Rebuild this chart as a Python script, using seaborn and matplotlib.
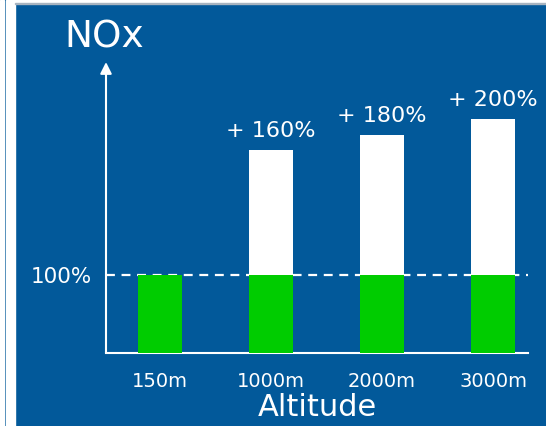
import matplotlib
matplotlib.use("Agg")
import matplotlib.pyplot as plt
import matplotlib.patches as mpatches
import seaborn as sns
import pandas as pd

# NOx emissions relative to sea-level operation, by altitude
altitudes = ["150m", "1000m", "2000m", "3000m"]
baseline = [100, 100, 100, 100]          # reference level (%)
total_nox = [100, 260, 280, 300]          # total emissions (%)
y_ticks = [100]
y_tick_labels = ["100%"]

BLUE = "#02599A"
GREEN = "#00CC00"
WHITE = "#FFFFFF"

sns.set_theme(style="white")
plt.rcParams["font.family"] = ["DejaVu Sans"]

df = pd.DataFrame({"altitude": altitudes, "base": baseline, "total": total_nox})

W, H = 546, 426
fig = plt.figure(figsize=(W / 100, H / 100), dpi=100)
fig.patch.set_facecolor(BLUE)

# slide frame on the left and top edge
fig.patches.extend([
    mpatches.Rectangle((0, 0), 4 / W, 1, transform=fig.transFigure, color=WHITE, zorder=0),
    mpatches.Rectangle((6 / W, 0), 9 / W, 1, transform=fig.transFigure, color=WHITE, zorder=0),
    mpatches.Rectangle((15 / W, 1 - 3 / H), 1, 3 / H, transform=fig.transFigure, color=WHITE, zorder=0),
    mpatches.Rectangle((15 / W, 1 - 4 / H), 1, 1 / H, transform=fig.transFigure, color="#A8B4C0", zorder=0),
])

ax = fig.add_axes([106 / W, 1 - 353 / H, (528 - 106) / W, (353 - 70) / H])
ax.set_facecolor("none")

# reference level
ax.axhline(100, color=WHITE, lw=1.6, ls=(0, (4, 3)), zorder=0.5)

# total emissions (white) with the baseline share (green) on top
sns.barplot(data=df, x="altitude", y="total", color=WHITE, saturation=1,
            width=0.4, ax=ax, zorder=2, linewidth=0, edgecolor="none")
sns.barplot(data=df, x="altitude", y="base", color=GREEN, saturation=1,
            width=0.4, ax=ax, zorder=3, linewidth=0, edgecolor="none")

for i, (b, t) in enumerate(zip(baseline, total_nox)):
    if t > b:
        ax.annotate(f"+ {t - b}%", xy=(i, t), xytext=(0, 9.5),
                    textcoords="offset points", ha="center", va="baseline",
                    color=WHITE, fontsize=16)

ax.set_xlim(-0.486, 3.315)
ax.set_ylim(0, 363)

for side in ["top", "right", "left"]:
    ax.spines[side].set_visible(False)
ax.spines["bottom"].set_color(WHITE)
ax.spines["bottom"].set_linewidth(1.5)

# vertical axis drawn as an arrow
ax.annotate("", xy=(0, 1.028), xytext=(0, 0), xycoords="axes fraction",
            arrowprops=dict(arrowstyle="-|>", color=WHITE, lw=1.5,
                            mutation_scale=17, shrinkA=0, shrinkB=0),
            annotation_clip=False)

ax.set_yticks(y_ticks)
ax.set_yticklabels(y_tick_labels, color=WHITE, fontsize=15.5)
ax.tick_params(axis="y", length=0, pad=10)
ax.tick_params(axis="x", length=0, pad=13.5, labelsize=14, labelcolor=WHITE)

ax.set_xlabel("Altitude", color=WHITE, fontsize=22, labelpad=1.5)
ax.set_ylabel("")

fig.text(104 / W, 1 - 38 / H, "NOx", color=WHITE, fontsize=27,
         ha="center", va="center")

fig.savefig("out.png", dpi=100, facecolor=fig.get_facecolor())
